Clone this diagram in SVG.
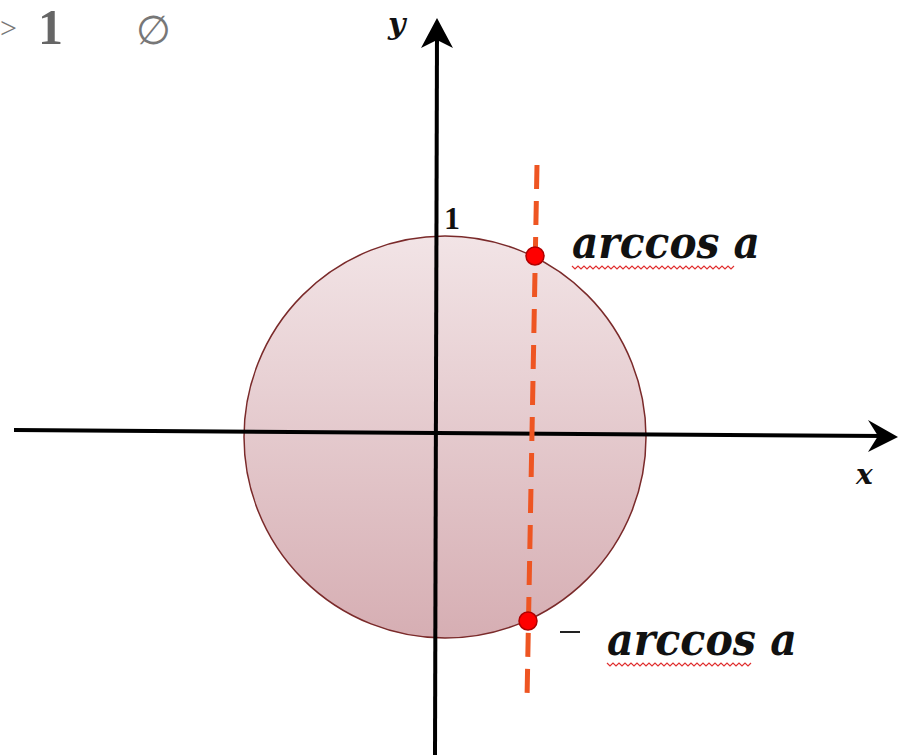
<svg xmlns="http://www.w3.org/2000/svg" width="898" height="755" viewBox="0 0 898 755">
<defs>
<linearGradient id="cg" x1="0" y1="0" x2="0" y2="1">
<stop offset="0" stop-color="#F2E4E6"/>
<stop offset="1" stop-color="#D6AEB3"/>
</linearGradient>
<style>
.lbl{font-family:"DejaVu Serif","Liberation Serif",serif;font-weight:bold;font-style:italic;fill:#111;}
.ax{stroke:#000;stroke-width:4;fill:none;}
.wave{stroke:#E03030;stroke-width:1.2;fill:none;}
.pt{fill:#FF0000;stroke:#B00000;stroke-width:1.5;}
</style>
</defs>
<rect width="898" height="755" fill="#fff"/>
<g id="header">
<text x="0" y="38" font-family="Liberation Serif,serif" font-size="30" fill="#777">&gt;</text>
<text x="38" y="44" font-family="Liberation Serif,serif" font-size="50" font-weight="bold" fill="#666">1</text>
<text x="136" y="44" font-family="DejaVu Sans,sans-serif" font-size="40" fill="#777">∅</text>
</g>
<g id="circle">
<circle cx="445" cy="437" r="201" fill="url(#cg)" stroke="#7A2A2A" stroke-width="1.5"/>
</g>
<g id="connectors">
<line class="ax" x1="14" y1="430" x2="884" y2="436"/>
<polygon points="898,437 868,420 878,436 868,452" fill="#000"/>
<line class="ax" x1="435" y1="755" x2="437" y2="32"/>
<polygon points="437,18 421,48 437,40 453,48" fill="#000"/>
<line x1="537" y1="165" x2="527" y2="700" stroke="#EE5522" stroke-width="5" stroke-dasharray="24,12"/>
</g>
<g id="labels">
<text class="lbl" x="388" y="34" font-size="30">y</text>
<text class="lbl" x="856" y="484" font-size="28">x</text>
<text x="444" y="229" font-family="Liberation Serif,serif" font-weight="bold" font-size="32" fill="#111">1</text>
</g>
<g id="point-top">
<circle class="pt" cx="535" cy="256" r="9"/>
<text class="lbl" x="572" y="258" font-size="44" textLength="188" lengthAdjust="spacingAndGlyphs">arccos a</text>
<path class="wave" d="M572,266 l3,3 l3,-3 l3,3 l3,-3 l3,3 l3,-3 l3,3 l3,-3 l3,3 l3,-3 l3,3 l3,-3 l3,3 l3,-3 l3,3 l3,-3 l3,3 l3,-3 l3,3 l3,-3 l3,3 l3,-3 l3,3 l3,-3 l3,3 l3,-3 l3,3 l3,-3 l3,3 l3,-3 l3,3 l3,-3 l3,3 l3,-3 l3,3 l3,-3 l3,3 l3,-3 l3,3 l3,-3 l3,3 l3,-3 l3,3 l3,-3 l3,3 l3,-3 l3,3 l3,-3 l3,3 l3,-3 l3,3 l3,-3 l3,3 l3,-3"/>
</g>
<g id="point-bottom">
<circle class="pt" cx="528" cy="621" r="9"/>
<line x1="560" y1="632" x2="580" y2="632" stroke="#222" stroke-width="2"/>
<text class="lbl" x="607" y="655" font-size="44" textLength="190" lengthAdjust="spacingAndGlyphs">arccos a</text>
<path class="wave" d="M607,663 l3,3 l3,-3 l3,3 l3,-3 l3,3 l3,-3 l3,3 l3,-3 l3,3 l3,-3 l3,3 l3,-3 l3,3 l3,-3 l3,3 l3,-3 l3,3 l3,-3 l3,3 l3,-3 l3,3 l3,-3 l3,3 l3,-3 l3,3 l3,-3 l3,3 l3,-3 l3,3 l3,-3 l3,3 l3,-3 l3,3 l3,-3 l3,3 l3,-3 l3,3 l3,-3 l3,3 l3,-3 l3,3 l3,-3 l3,3 l3,-3 l3,3 l3,-3 l3,3 l3,-3"/>
</g>
</svg>
